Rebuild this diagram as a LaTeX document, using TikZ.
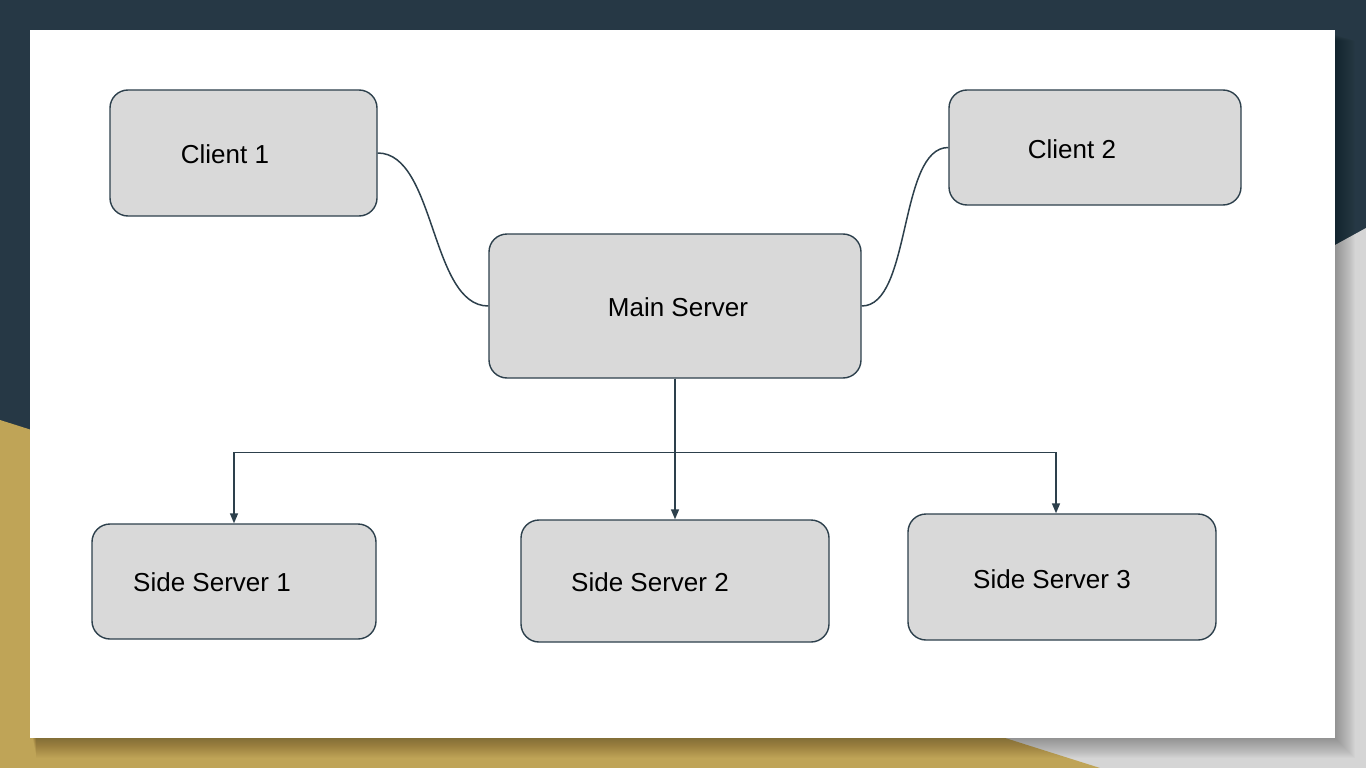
\documentclass[tikz,border=0pt]{standalone}
\usepackage{fontspec}
\setmainfont{Liberation Sans}
\usetikzlibrary{arrows.meta,calc}
\definecolor{navy}{HTML}{263845}
\definecolor{gold}{HTML}{BFA457}
\definecolor{lgray}{HTML}{D5D5D5}
\definecolor{boxfill}{HTML}{D9D9D9}
\definecolor{edgec}{HTML}{2D404C}
\begin{document}
\begin{tikzpicture}[x=1pt,y=-1pt,
 box/.style={draw=edgec, fill=boxfill, line width=1.4pt, rounded corners=18pt, inner sep=0pt},
 conn/.style={draw=edgec, line width=1.5pt},
 arr/.style={conn, -{Triangle[length=10pt,width=8pt]}},
 lbl/.style={font=\fontsize{26}{30}\selectfont, text=black}]
\useasboundingbox (0,0) rectangle (1366,768);
\fill[navy] (0,0) rectangle (1366,768);
\fill[lgray] (1366,228) -- (1366,768) -- (384,768) -- cycle;
\fill[gold] (0,420) -- (1100,768) -- (0,768) -- cycle;
\foreach \i in {1,...,22}
  \fill[black,opacity=0.016] (32+\i*0.2,34+\i*0.3) rectangle (1333+\i,736+\i);
\fill[white] (30,30) rectangle (1335,738);

\node[box, minimum width=267pt, minimum height=126pt,
  label={[lbl,shift={(-18.5,1)}]center:Client 1}] (c1) at (243.5,153) {};
\node[box, minimum width=292pt, minimum height=115pt,
  label={[lbl,shift={(-23,1.5)}]center:Client 2}] (c2) at (1095,147.5) {};
\node[box, minimum width=372pt, minimum height=144pt,
  label={[lbl,shift={(3,1)}]center:Main Server}] (main) at (675,306) {};
\node[box, minimum width=284pt, minimum height=115pt,
  label={[lbl,shift={(-22,0.5)}]center:Side Server 1}] (s1) at (234,581.5) {};
\node[box, minimum width=308pt, minimum height=122pt,
  label={[lbl,shift={(-25,1)}]center:Side Server 2}] (s2) at (675,581) {};
\node[box, minimum width=308pt, minimum height=126pt,
  label={[lbl,shift={(-10,2)}]center:Side Server 3}] (s3) at (1062,577) {};

\draw[conn] (c1.east) .. controls +(58,0) and +(-58,0) .. (main.west);
\draw[conn] (c2.west) .. controls +(-50,0) and +(50,0) .. (main.east);
\draw[arr] (main.south) -- ++(0,74) -| (s1.north);
\draw[arr] (main.south) -- (s2.north);
\draw[arr] (main.south) -- ++(0,74) -| ([xshift=-6pt]s3.north);
\end{tikzpicture}
\end{document}
